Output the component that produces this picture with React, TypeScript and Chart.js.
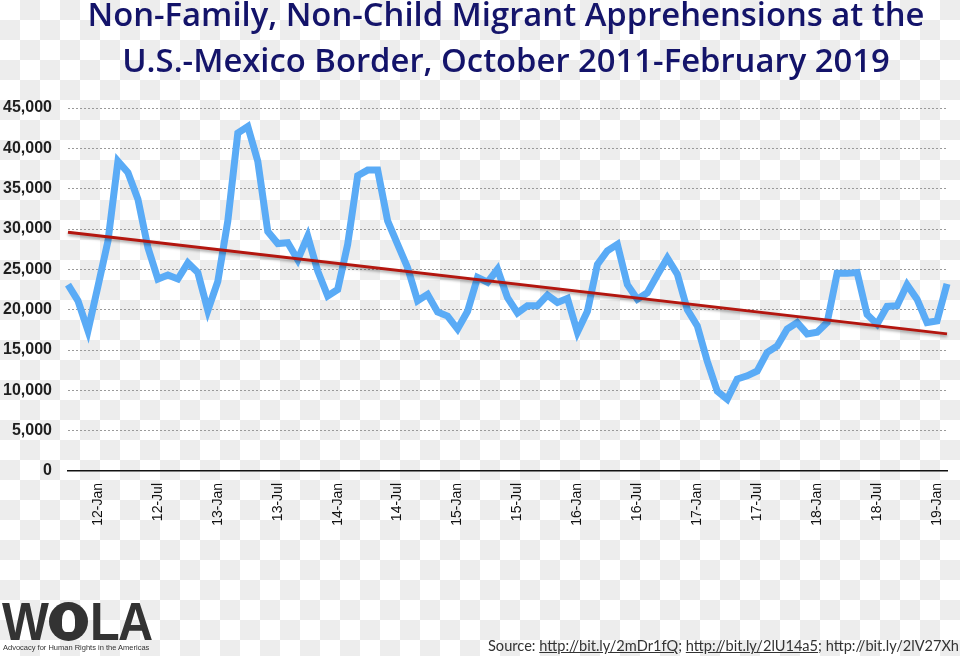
import React, { useEffect, useRef } from 'react';
import { Chart, registerables } from 'chart.js';

Chart.register(...registerables);

const categories: string[] = [
  '11-Oct', '11-Nov', '11-Dec',
  '12-Jan', '12-Feb', '12-Mar', '12-Apr', '12-May', '12-Jun', '12-Jul', '12-Aug', '12-Sep', '12-Oct', '12-Nov', '12-Dec',
  '13-Jan', '13-Feb', '13-Mar', '13-Apr', '13-May', '13-Jun', '13-Jul', '13-Aug', '13-Sep', '13-Oct', '13-Nov', '13-Dec',
  '14-Jan', '14-Feb', '14-Mar', '14-Apr', '14-May', '14-Jun', '14-Jul', '14-Aug', '14-Sep', '14-Oct', '14-Nov', '14-Dec',
  '15-Jan', '15-Feb', '15-Mar', '15-Apr', '15-May', '15-Jun', '15-Jul', '15-Aug', '15-Sep', '15-Oct', '15-Nov', '15-Dec',
  '16-Jan', '16-Feb', '16-Mar', '16-Apr', '16-May', '16-Jun', '16-Jul', '16-Aug', '16-Sep', '16-Oct', '16-Nov', '16-Dec',
  '17-Jan', '17-Feb', '17-Mar', '17-Apr', '17-May', '17-Jun', '17-Jul', '17-Aug', '17-Sep', '17-Oct', '17-Nov', '17-Dec',
  '18-Jan', '18-Feb', '18-Mar', '18-Apr', '18-May', '18-Jun', '18-Jul', '18-Aug', '18-Sep', '18-Oct', '18-Nov', '18-Dec',
  '19-Jan', '19-Feb',
];

const shownTickLabels: string[] = [
  '12-Jan', '12-Jul', '13-Jan', '13-Jul', '14-Jan', '14-Jul', '15-Jan', '15-Jul',
  '16-Jan', '16-Jul', '17-Jan', '17-Jul', '18-Jan', '18-Jul', '19-Jan',
];

const apprehensions: number[] = [
  23100, 21100, 17400, 22900, 28500, 38400, 37000, 33700, 27700, 23800,
  24300, 23800, 25800, 24600, 19900, 23500, 31000, 41900, 42700, 38400,
  29700, 28200, 28300, 26200, 29100, 24800, 21700, 22500, 28100, 36600,
  37300, 37300, 31000, 28100, 25200, 21100, 21900, 19700, 19200, 17600,
  19800, 24000, 23400, 25000, 21500, 19600, 20500, 20500, 21800, 20900,
  21400, 17200, 19800, 25600, 27300, 28100, 23100, 21300, 22100, 24300,
  26400, 24400, 20000, 18000, 13600, 9900, 8900, 11400, 11800, 12400,
  14700, 15500, 17600, 18400, 17000, 17200, 18400, 24500, 24500, 24600,
  19400, 18200, 20400, 20500, 23100, 21300, 18400, 18600, 23200,
];

// Linear trend line endpoints (first and last month)
const trendStart = 29600;
const trendEnd = 17000;

const titleLines: string[] = [
  'Non-Family, Non-Child Migrant Apprehensions at the',
  'U.S.-Mexico Border, October 2011-February 2019',
];

const yTickValues: number[] = [0, 5000, 10000, 15000, 20000, 25000, 30000, 35000, 40000, 45000];

const trendShadow = {
  id: 'trendShadow',
  beforeDatasetDraw(chart: any, args: any) {
    if (args.index === 0) {
      const ctx = chart.ctx;
      ctx.save();
      ctx.shadowColor = 'rgba(0,0,0,0.35)';
      ctx.shadowBlur = 3;
      ctx.shadowOffsetY = 2;
    }
  },
  afterDatasetDraw(chart: any, args: any) {
    if (args.index === 0) chart.ctx.restore();
  },
};

export default function App() {
  const canvasRef = useRef<HTMLCanvasElement | null>(null);

  useEffect(() => {
    const canvas = canvasRef.current;
    if (!canvas) return;
    const last = categories.length - 1;
    const trendData = categories.map((_, i) => (i === 0 ? trendStart : i === last ? trendEnd : null));

    const chart = new Chart(canvas, {
      type: 'line',
      data: {
        labels: categories,
        datasets: [
          {
            label: 'Trend',
            data: trendData,
            borderColor: '#b3160f',
            borderWidth: 3,
            pointRadius: 0,
            spanGaps: true,
            tension: 0,
            clip: false as any,
          },
          {
            label: 'Apprehensions',
            data: apprehensions,
            borderColor: '#5aabf6',
            borderWidth: 7,
            pointRadius: 0,
            tension: 0,
            borderJoinStyle: 'miter',
            clip: false as any,
          },
        ],
      },
      options: {
        responsive: false,
        animation: false,
        layout: { padding: { top: 108, right: 13, left: 0, bottom: 0 } },
        plugins: {
          legend: { display: false },
          title: { display: false },
          tooltip: { enabled: false },
        },
        scales: {
          x: {
            type: 'category',
            offset: false,
            grid: { display: false, drawTicks: false },
            border: { display: true, color: '#111', width: 1.5 },
            afterFit: (s: any) => {
              s.height = 656 - 471;
              s.paddingLeft = 0;
              s.paddingRight = 0;
            },
            ticks: {
              autoSkip: false,
              minRotation: 90,
              maxRotation: 90,
              padding: 12,
              color: '#111',
              font: { family: '"Liberation Sans", Arial, sans-serif', size: 14 },
              callback: (_v: any, idx: number) => {
                const lab = categories[idx];
                return shownTickLabels.includes(lab) ? lab : '';
              },
            },
          },
          y: {
            min: 0,
            max: 45000,
            afterFit: (s: any) => {
              s.width = 68;
            },
            afterBuildTicks: (s: any) => {
              s.ticks = yTickValues.map((v) => ({ value: v }));
            },
            grid: {
              drawTicks: false,
              lineWidth: 1,
              color: (ctx: any) => (ctx.tick && ctx.tick.value === 0 ? 'rgba(0,0,0,0)' : '#9a9a9a'),
            },
            border: { display: false, dash: [2, 2] },
            ticks: {
              padding: 16,
              color: '#1e1e1e',
              font: { family: '"Liberation Sans", Arial, sans-serif', size: 16, weight: 'bold' },
              callback: (v: any) => Number(v).toLocaleString('en-US'),
            },
          },
        },
      },
      plugins: [trendShadow],
    });
    return () => chart.destroy();
  }, []);

  return (
    <div
      style={{
        position: 'absolute',
        left: 0,
        top: 0,
        width: 960,
        height: 656,
        overflow: 'hidden',
        backgroundImage: 'conic-gradient(#ededed 0 25%, #ffffff 0 50%, #ededed 0 75%, #ffffff 0)',
        backgroundSize: '40px 40px',
      }}
    >
      <canvas
        ref={canvasRef}
        width={960}
        height={656}
        style={{ position: 'absolute', left: 0, top: 0, width: 960, height: 656 }}
      />
      <div
        style={{
          position: 'absolute',
          left: 66,
          top: -9,
          width: 880,
          textAlign: 'center',
          fontFamily: '"Open Sans", Lato, sans-serif',
          fontWeight: 600,
          fontSize: 32.8,
          lineHeight: '46px',
          color: '#14146a',
          whiteSpace: 'nowrap',
        }}
      >
        {titleLines.map((t) => (
          <div key={t}>{t}</div>
        ))}
      </div>
      <div
        style={{
          position: 'absolute',
          left: 2,
          top: 601,
          height: 40,
          display: 'flex',
          alignItems: 'center',
          fontFamily: '"Liberation Sans", Arial, sans-serif',
          fontWeight: 700,
          fontSize: 54,
          lineHeight: '40px',
          color: '#333',
          letterSpacing: -2,
        }}
      >
        <span style={{ display: 'inline-block', transform: 'scaleX(0.92)', transformOrigin: 'left center' }}>W</span>
        <span
          style={{
            display: 'inline-block',
            width: 39,
            height: 39,
            borderRadius: '50%',
            background: '#333',
            marginLeft: -2,
            marginRight: 2,
            position: 'relative',
          }}
        >
          <span
            style={{
              position: 'absolute',
              left: 13,
              top: 8,
              width: 13,
              height: 22,
              borderRadius: '45% 45% 30% 30%',
              background: '#fff',
            }}
          />
        </span>
        <span style={{ display: 'inline-block', transform: 'scaleX(0.9)', transformOrigin: 'left center' }}>LA</span>
      </div>
      <div
        style={{
          position: 'absolute',
          left: 3,
          top: 643,
          fontFamily: '"Liberation Sans", Arial, sans-serif',
          fontSize: 7.5,
          lineHeight: '10px',
          color: '#333',
          whiteSpace: 'nowrap',
        }}
      >
        Advocacy for Human Rights in the Americas
      </div>
      <div
        style={{
          position: 'absolute',
          left: 488,
          top: 637,
          fontFamily: 'Lato, "Open Sans", sans-serif',
          fontSize: 14.6,
          lineHeight: '18px',
          color: '#333',
          whiteSpace: 'nowrap',
        }}
      >
        Source: <span style={{ textDecoration: 'underline' }}>http://bit.ly/2mDr1fQ</span>;{' '}
        <span style={{ textDecoration: 'underline' }}>http://bit.ly/2lU14a5</span>; http://bit.ly/2lV27Xh
      </div>
    </div>
  );
}
